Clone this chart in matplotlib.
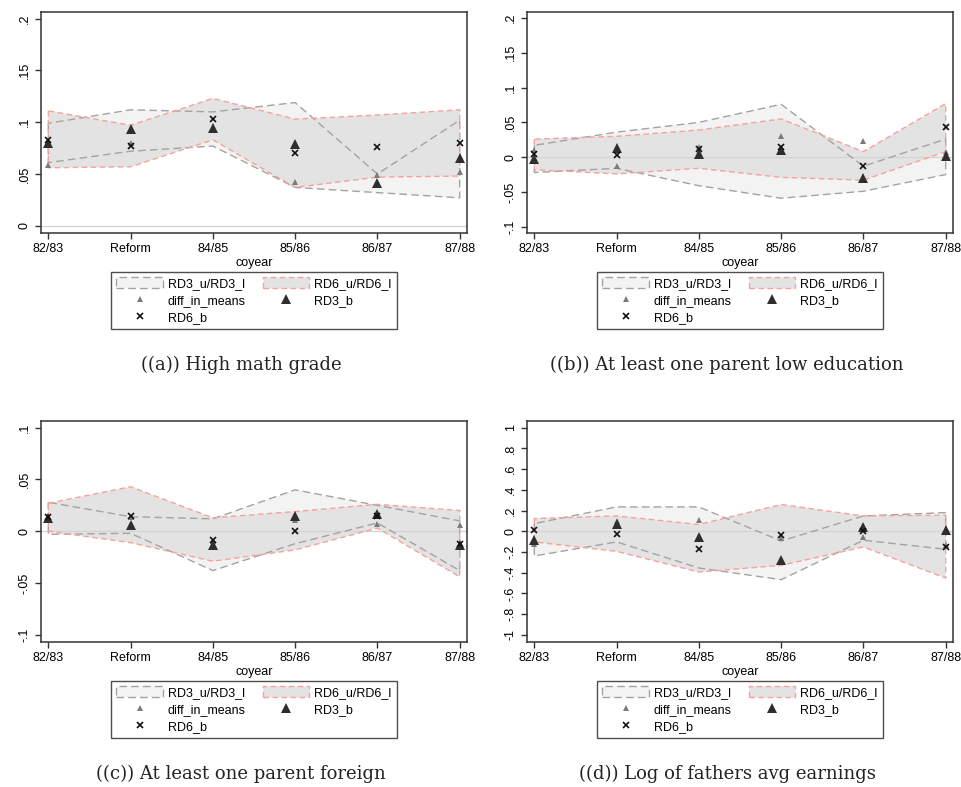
import matplotlib.pyplot as plt
from matplotlib.patches import Patch
from matplotlib.lines import Line2D
from matplotlib.ticker import FuncFormatter

plt.rcParams['font.family'] = ['Liberation Sans', 'DejaVu Sans']

years = ['82/83', 'Reform', '84/85', '85/86', '86/87', '87/88']

# (a) High math grade
a_rd3_u = [0.099, 0.112, 0.110, 0.119, 0.050, 0.102]
a_rd3_l = [0.061, 0.072, 0.077, 0.037, 0.032, 0.027]
a_rd6_u = [0.111, 0.097, 0.123, 0.103, 0.107, 0.112]
a_rd6_l = [0.056, 0.057, 0.083, 0.037, 0.047, 0.048]
a_diff = [0.059, 0.080, 0.094, 0.042, 0.049, 0.052]
a_rd3_b = [0.080, 0.093, 0.094, 0.079, 0.041, 0.065]
a_rd6_b = [0.083, 0.077, 0.103, 0.070, 0.076, 0.080]

# (b) At least one parent low education
b_rd3_u = [0.017, 0.036, 0.050, 0.076, -0.013, 0.026]
b_rd3_l = [-0.022, -0.016, -0.041, -0.059, -0.049, -0.025]
b_rd6_u = [0.026, 0.030, 0.039, 0.055, 0.008, 0.077]
b_rd6_l = [-0.018, -0.024, -0.016, -0.029, -0.033, 0.008]
b_diff = [0.011, -0.013, 0.015, 0.030, 0.023, 0.008]
b_rd3_b = [-0.002, 0.013, 0.005, 0.010, -0.030, 0.002]
b_rd6_b = [0.004, 0.003, 0.012, 0.014, -0.013, 0.043]

# (c) At least one parent foreign
c_rd3_u = [0.028, 0.014, 0.012, 0.040, 0.025, 0.010]
c_rd3_l = [-0.003, -0.002, -0.038, -0.012, 0.008, -0.038]
c_rd6_u = [0.027, 0.043, 0.013, 0.019, 0.026, 0.020]
c_rd6_l = [0.000, -0.011, -0.029, -0.018, 0.003, -0.044]
c_diff = [0.014, 0.014, -0.009, 0.011, 0.007, 0.006]
c_rd3_b = [0.013, 0.006, -0.013, 0.015, 0.017, -0.013]
c_rd6_b = [0.014, 0.015, -0.008, 0.000, 0.015, -0.012]

# (d) Log of fathers avg earnings
d_rd3_u = [0.074, 0.235, 0.235, -0.094, 0.148, 0.180]
d_rd3_l = [-0.239, -0.103, -0.355, -0.468, -0.087, -0.174]
d_rd6_u = [0.123, 0.148, 0.065, 0.258, 0.148, 0.155]
d_rd6_l = [-0.103, -0.194, -0.394, -0.329, -0.152, -0.452]
d_diff = [-0.119, 0.097, 0.113, -0.065, -0.055, -0.135]
d_rd3_b = [-0.087, 0.074, -0.055, -0.281, 0.042, 0.010]
d_rd6_b = [0.010, -0.023, -0.174, -0.039, 0.000, -0.152]

yticks_a = [0, 0.05, 0.1, 0.15, 0.2]
yticks_b = [-0.1, -0.05, 0, 0.05, 0.1, 0.15, 0.2]
yticks_c = [-0.1, -0.05, 0, 0.05, 0.1]
yticks_d = [-1, -0.8, -0.6, -0.4, -0.2, 0, 0.2, 0.4, 0.6, 0.8, 1]

captions = ['((a)) High math grade',
            '((b)) At least one parent low education',
            '((c)) At least one parent foreign',
            '((d)) Log of fathers avg earnings']

RD3_FILL = '#f3f3f3'
RD3_EDGE = '#a3a3a3'
RD6_FILL = '#e3e3e3'
RD6_EDGE = '#f5a39c'
DASH3 = (0, (5.5, 3))
DASH6 = (0, (4, 2.5))


def stata_fmt(v, pos=None):
    s = f'{v:.2f}'.rstrip('0').rstrip('.')
    if s in ('-0', ''):
        s = '0'
    return s.replace('0.', '.')


W, H = 961, 787
fig = plt.figure(figsize=(W / 100, H / 100), dpi=100)

panels = [
    (a_rd3_u, a_rd3_l, a_rd6_u, a_rd6_l, a_diff, a_rd3_b, a_rd6_b, yticks_a, (-0.007, 0.2065)),
    (b_rd3_u, b_rd3_l, b_rd6_u, b_rd6_l, b_diff, b_rd3_b, b_rd6_b, yticks_b, (-0.109, 0.2087)),
    (c_rd3_u, c_rd3_l, c_rd6_u, c_rd6_l, c_diff, c_rd3_b, c_rd6_b, yticks_c, (-0.107, 0.1065)),
    (d_rd3_u, d_rd3_l, d_rd6_u, d_rd6_l, d_diff, d_rd3_b, d_rd6_b, yticks_d, (-1.07, 1.065)),
]

# pixel layout: axes left, axes top
lefts = [41, 527, 41, 527]
tops = [12, 12, 421, 421]
aw, ah = 426, 221

x = list(range(len(years)))

for i, (r3u, r3l, r6u, r6l, dm, r3b, r6b, yt, ylim) in enumerate(panels):
    l, t = lefts[i], tops[i]
    ax = fig.add_axes([l / W, 1 - (t + ah) / H, aw / W, ah / H])

    ax.fill_between(x, r3l, r3u, facecolor=RD3_FILL, edgecolor='none', zorder=1)
    ax.fill_between(x, r6l, r6u, facecolor=RD6_FILL, edgecolor='none', zorder=2)
    ax.axhline(0, color='#d4d4d4', lw=1, zorder=2.5)
    ax.fill_between(x, r3l, r3u, facecolor='none', edgecolor=RD3_EDGE,
                    linestyle=DASH3, lw=1, zorder=3)
    ax.fill_between(x, r6l, r6u, facecolor='none', edgecolor=RD6_EDGE,
                    linestyle=DASH6, lw=1, zorder=3)

    ax.plot(x, dm, '^', color='#7a7a7a', ms=4.5, mew=0, zorder=4)
    ax.plot(x, r3b, '^', color='#2e2e2e', ms=7.5, mew=0, zorder=5)
    ax.plot(x, r6b, 'x', color='#111111', ms=3.8, mew=1.2, zorder=6)

    ax.set_xlim(-0.089, 5.089)
    ax.set_ylim(*ylim)
    ax.set_xticks(x)
    ax.set_xticklabels(years)
    ax.set_yticks(yt)
    ax.yaxis.set_major_formatter(FuncFormatter(stata_fmt))
    ax.tick_params(axis='both', direction='out', length=4.5, width=1,
                   color='#333333', labelsize=9, pad=3)
    ax.tick_params(axis='y', labelrotation=90)
    plt.setp(ax.get_yticklabels(), va='center')
    ax.set_xlabel('coyear', fontsize=9, labelpad=1)
    for sp in ax.spines.values():
        sp.set_color('#333333')
        sp.set_linewidth(1.1)

    handles = [
        Patch(facecolor=RD3_FILL, edgecolor=RD3_EDGE, linestyle=DASH3, lw=1),
        Line2D([], [], ls='none', marker='^', color='#7a7a7a', ms=4.5, mew=0),
        Line2D([], [], ls='none', marker='x', color='#111111', ms=3.8, mew=1.2),
        Patch(facecolor=RD6_FILL, edgecolor=RD6_EDGE, linestyle=DASH6, lw=1),
        Line2D([], [], ls='none', marker='^', color='#2e2e2e', ms=7.5, mew=0),
    ]
    labels = ['RD3_u/RD3_l', 'diff_in_means', 'RD6_b', 'RD6_u/RD6_l', 'RD3_b']
    cx = (l + aw / 2) / W
    leg = fig.legend(handles, labels, loc='upper center',
                     bbox_to_anchor=(cx, 1 - (t + 260) / H),
                     bbox_transform=fig.transFigure, ncol=2, fontsize=9,
                     frameon=True, fancybox=False, borderaxespad=0,
                     handlelength=3.7, handleheight=1.0, handletextpad=0.4,
                     columnspacing=1.4, labelspacing=0.35, borderpad=0.4)
    leg.get_frame().set_edgecolor('#222222')
    leg.get_frame().set_linewidth(1.0)

    fig.text((l - 41 + 241) / W, 1 - (t + 353) / H, captions[i],
             ha='center', va='center', fontsize=13, family='DejaVu Serif',
             color='#222222')

fig.savefig('out.png', dpi=100)
